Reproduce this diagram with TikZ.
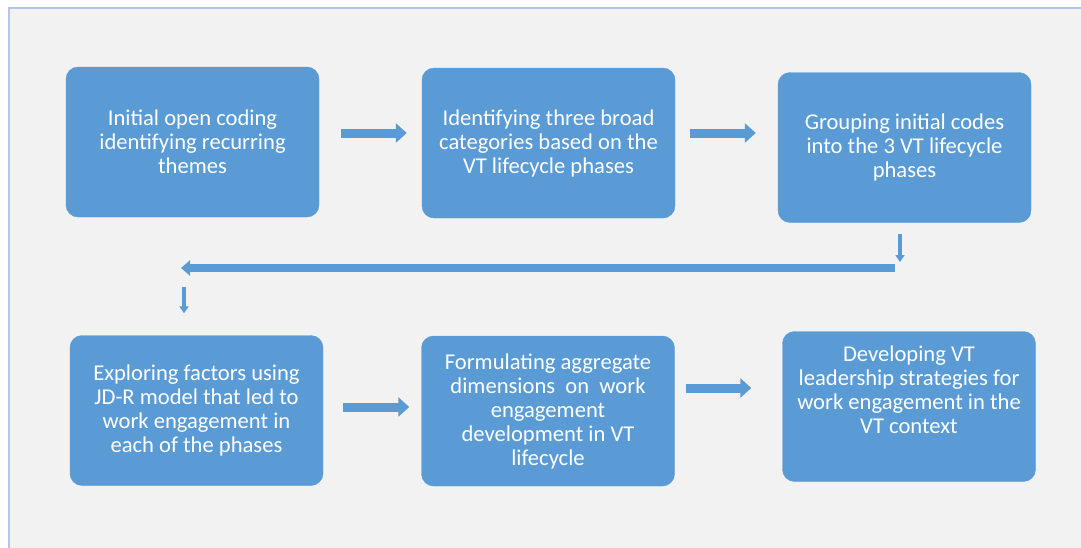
\documentclass[tikz,border=0pt]{standalone}
\usepackage{fontspec}
\setmainfont{Carlito}
\usetikzlibrary{arrows.meta}
\definecolor{boxblue}{HTML}{5B9BD5}
\definecolor{bgray}{HTML}{F2F2F2}
\definecolor{framecol}{HTML}{B4C7E7}
\begin{document}
\begin{tikzpicture}[x=1pt,y=-1pt,
  box/.style={fill=boxblue, draw=boxblue, rounded corners=12pt, minimum width=253pt, minimum height=150pt, text=white, align=center, font=\fontsize{22.6}{24}\selectfont, inner sep=0pt},
  flow/.style={draw=boxblue, line width=9pt, -{Triangle[width=19pt,length=11pt]}},
  longflow/.style={draw=boxblue, line width=8pt, -{Triangle[width=15pt,length=9pt]}},
  downflow/.style={draw=boxblue, line width=4pt, -{Triangle[width=9pt,length=7pt]}},
  txt/.style={text=white, align=center, font=\fontsize{22.6}{24}\selectfont, inner sep=0pt}]
\useasboundingbox (0,0) rectangle (1081,547);
\fill[white] (0,0) rectangle (1081,547);
\path[fill=bgray, draw=framecol, line width=1.5pt] (9,8) rectangle (1100,570);

\node[box] (b1) at (192.5,142) {Initial open coding\\identifying recurring\\themes};
\node[box] (b2) at (548.5,143) {Identifying three broad\\categories based on the\\VT lifecycle phases};
\node[box] (b3) at (904.5,147.5) {Grouping initial codes\\into the 3 VT lifecycle\\phases};
\node[box] (b4) at (196.5,410.5) {Exploring factors using\\JD-R model that led to\\work engagement in\\each of the phases};
\node[box] (b5) at (548,411) {Formulating aggregate\\dimensions\ \ on\ \ work\\engagement\\development in VT\\lifecycle};
\node[box] (b6) at (909,406.5) {};
\node[txt] (t6) at (909,390) {Developing VT\\leadership strategies for\\work engagement in the\\VT context};

\coordinate (ya) at (0,133);
\coordinate (yb) at (0,133);
\coordinate (yc) at (0,407);
\coordinate (yd) at (0,388);
\draw[flow, shorten <=22pt, shorten >=15pt] (b1.east |- ya) -- (b2.west |- ya);
\draw[flow, shorten <=15pt, shorten >=22pt] (b2.east |- yb) -- (b3.west |- yb);
\draw[flow, shorten <=20pt, shorten >=12pt] (b4.east |- yc) -- (b5.west |- yc);
\draw[flow, shorten <=11pt, shorten >=31pt] (b5.east |- yd) -- (b6.west |- yd);

\coordinate (d1e) at (900,262);
\coordinate (lr) at (895,268);
\coordinate (ll) at (181,268);
\coordinate (d2s) at (184,287);
\draw[downflow, shorten <=11pt] (b3.south -| d1e) -- (d1e);
\draw[longflow] (lr) -- (ll);
\draw[downflow, shorten >=22pt] (d2s) -- (b4.north -| d2s);
\end{tikzpicture}
\end{document}
